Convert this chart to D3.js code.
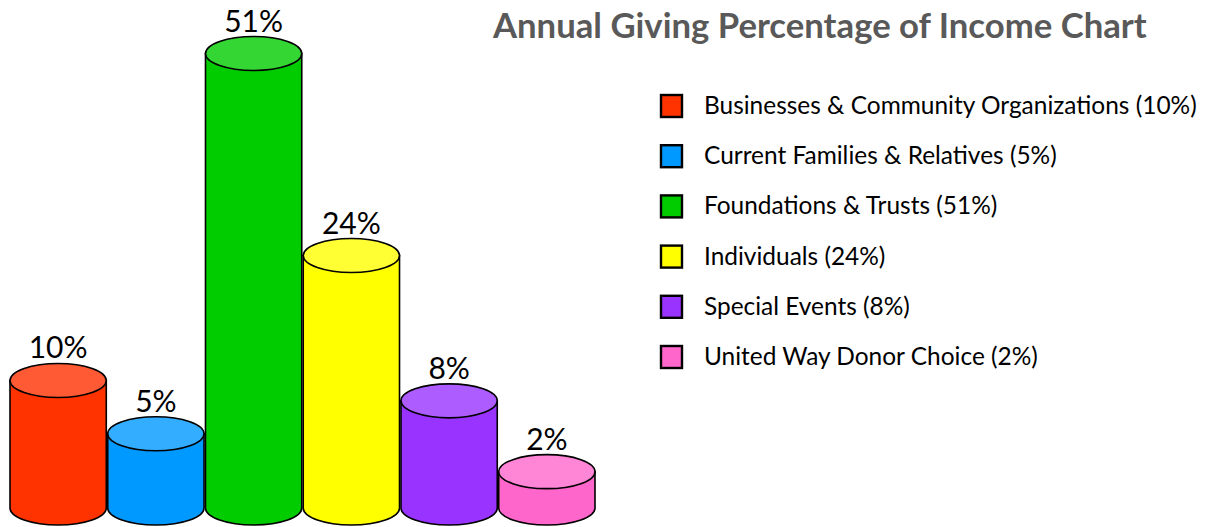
<!DOCTYPE html>
<html>
<head>
<meta charset="utf-8">
<script src="https://cdn.jsdelivr.net/npm/d3@7"></script>
<style>
  html, body { margin: 0; padding: 0; background: #fff; }
  svg { display: block; }
</style>
</head>
<body>
<svg id="chart" width="1214" height="527"></svg>
<script>
const title = "Annual Giving Percentage of Income Chart";
const categories = [
  "Businesses & Community Organizations",
  "Current Families & Relatives",
  "Foundations & Trusts",
  "Individuals",
  "Special Events",
  "United Way Donor Choice"
];
const values = [10, 5, 51, 24, 8, 2];
const bodyColors = ["#FF3300", "#0099FF", "#00CC00", "#FFFF00", "#9933FF", "#FF66CC"];
const topColors  = ["#FF5A33", "#33ADFF", "#33D633", "#FFFF33", "#AD5CFF", "#FF85D6"];

const svg = d3.select("#chart");
const font = "Lato, 'Open Sans', sans-serif";

const x = d3.scaleBand().domain(categories).range([10, 595]).paddingInner(0.015);
const y = d3.scalePow().exponent(0.78).domain([0, 51]).range([508, 53.5]);

const rx = x.bandwidth() / 2;
const ry = 17;
const base = y(0);

const bars = svg.append("g").selectAll("g").data(categories).join("g");

bars.append("path")
  .attr("d", (d, i) => {
    const x0 = x(d), x1 = x(d) + x.bandwidth();
    const yt = y(values[i]);
    return `M${x0},${yt} L${x0},${base} A${rx},${ry} 0 0 0 ${x1},${base} L${x1},${yt} Z`;
  })
  .attr("fill", (d, i) => bodyColors[i])
  .attr("stroke", "#000")
  .attr("stroke-width", 1.6);

bars.append("ellipse")
  .attr("cx", d => x(d) + rx)
  .attr("cy", (d, i) => y(values[i]))
  .attr("rx", rx)
  .attr("ry", ry)
  .attr("fill", (d, i) => topColors[i])
  .attr("stroke", "#000")
  .attr("stroke-width", 1.6);

bars.append("text")
  .attr("x", d => x(d) + rx)
  .attr("y", (d, i) => y(values[i]) - ry - 5)
  .attr("text-anchor", "middle")
  .attr("font-family", font)
  .attr("font-size", 30)
  .attr("fill", "#000")
  .text((d, i) => values[i] + "%");

// Title
const t = svg.append("text")
  .attr("x", 493)
  .attr("y", 38)
  .attr("font-family", font)
  .attr("font-weight", "bold")
  .attr("font-size", 32)
  .attr("fill", "#595959")
  .text(title);
{
  const w = t.node().getComputedTextLength();
  t.attr("font-size", 32 * 654 / w);
}

// Legend
const leg = svg.append("g");
const rows = leg.selectAll("g").data(categories).join("g")
  .attr("transform", (d, i) => `translate(0, ${i * 50.2})`);

rows.append("rect")
  .attr("x", 661)
  .attr("y", 95)
  .attr("width", 21)
  .attr("height", 22)
  .attr("fill", (d, i) => bodyColors[i])
  .attr("stroke", "#000")
  .attr("stroke-width", 2.4);

const lt = rows.append("text")
  .attr("x", 704)
  .attr("y", 114)
  .attr("font-family", font)
  .attr("font-size", 20)
  .attr("fill", "#000")
  .text((d, i) => `${d} (${values[i]}%)`);
{
  const w = lt.nodes()[0].getComputedTextLength();
  lt.attr("font-size", 20 * 493 / w);
}
</script>
</body>
</html>
